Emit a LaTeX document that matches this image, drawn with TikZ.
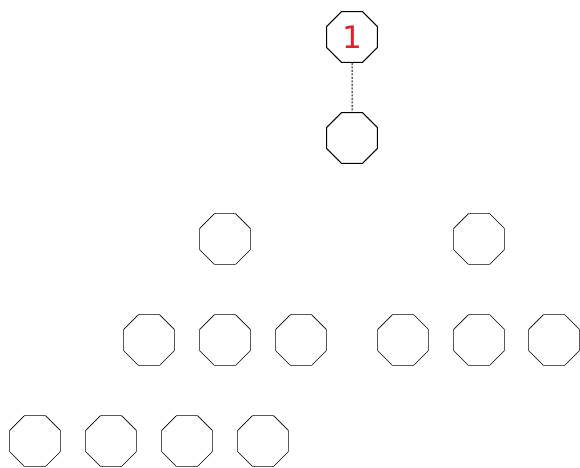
\documentclass[tikz,border=0pt]{standalone}
\usepackage{fontspec}
\newfontfamily\numfont{DejaVu Sans}
\usetikzlibrary{shapes.geometric}
\definecolor{numred}{RGB}{230,30,40}
\begin{document}
\begin{tikzpicture}[
    x=1pt, y=-1pt,
    octa/.style={draw, regular polygon, regular polygon sides=8,
      minimum size=55pt, inner sep=0pt, line width=0.6pt},
    octabold/.style={octa, line width=1pt},
    font=\numfont,
  ]
    \useasboundingbox (0,0) rectangle (580,467);
    % root and its child
    \node[octabold, text=numred, font=\numfont\fontsize{31}{31}\selectfont] (root) at (352,37) {1};
    \node[octabold] (child) at (352,138) {};
    \draw[line width=1pt, dash pattern=on 2pt off 1.5pt] (root) -- (child);
    % third row
    \node[octa] (left)  at (225,239) {};
    \node[octa] (right) at (479,239) {};
    % fourth row
    \node[octa] (la) at (149,340) {};
    \node[octa] (lb) at (225,340) {};
    \node[octa] (lc) at (301,340) {};
    \node[octa] (ra) at (403,340) {};
    \node[octa] (rb) at (479,340) {};
    \node[octa] (rc) at (554,340) {};
    % fifth row
    \node[octa] (ba) at (35,441) {};
    \node[octa] (bb) at (111,441) {};
    \node[octa] (bc) at (187,441) {};
    \node[octa] (bd) at (263,441) {};
  \end{tikzpicture}
\end{document}
